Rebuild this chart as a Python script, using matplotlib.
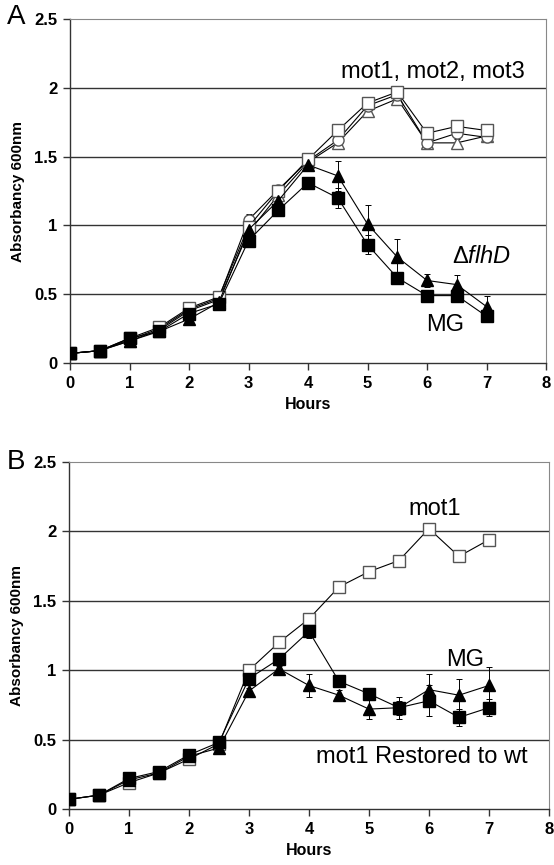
import numpy as np
import matplotlib.pyplot as plt

plt.rcParams['font.family'] = ['Liberation Sans', 'DejaVu Sans']
plt.rcParams['mathtext.fontset'] = 'custom'
plt.rcParams['mathtext.rm'] = 'Liberation Sans'
plt.rcParams['mathtext.it'] = 'Liberation Sans:italic'

#--------- data ---------
hours = [0, 0.5, 1, 1.5, 2, 2.5, 3, 3.5, 4, 4.5, 5, 5.5, 6, 6.5, 7]

# panel A
a_mg = [0.07, 0.09, 0.18, 0.23, 0.36, 0.43, 0.89, 1.11, 1.31, 1.20, 0.86, 0.62, 0.49, 0.49, 0.34]
a_mg_err = [0.01, 0.01, 0.01, 0.01, 0.02, 0.02, 0.03, 0.03, 0.03, 0.07, 0.07, 0.02, 0.02, 0.02, 0.02]
a_flhd = [0.07, 0.09, 0.16, 0.23, 0.32, 0.44, 0.97, 1.18, 1.44, 1.36, 1.01, 0.77, 0.60, 0.57, 0.41]
a_flhd_err = [0.01, 0.01, 0.01, 0.01, 0.02, 0.02, 0.03, 0.03, 0.03, 0.11, 0.14, 0.13, 0.05, 0.07, 0.08]
a_mot1 = [0.07, 0.09, 0.18, 0.26, 0.40, 0.48, 0.99, 1.25, 1.48, 1.69, 1.89, 1.97, 1.67, 1.72, 1.69]
a_mot2 = [0.07, 0.09, 0.17, 0.25, 0.39, 0.47, 1.04, 1.26, 1.47, 1.62, 1.87, 1.95, 1.60, 1.67, 1.64]
a_mot3 = [0.07, 0.09, 0.16, 0.24, 0.38, 0.46, 0.95, 1.22, 1.46, 1.60, 1.83, 1.92, 1.60, 1.60, 1.65]
a_mot_err = [0.01, 0.01, 0.01, 0.01, 0.02, 0.02, 0.04, 0.03, 0.02, 0.03, 0.03, 0.03, 0.03, 0.03, 0.02]

# panel B
b_mot1 = [0.07, 0.10, 0.19, 0.26, 0.36, 0.47, 1.00, 1.20, 1.37, 1.60, 1.71, 1.79, 2.02, 1.82, 1.94]
b_mot1_err = [0.01, 0.01, 0.01, 0.01, 0.01, 0.01, 0.02, 0.02, 0.02, 0.02, 0.02, 0.02, 0.03, 0.04, 0.03]
b_mg = [0.07, 0.10, 0.22, 0.27, 0.39, 0.48, 0.94, 1.08, 1.28, 0.92, 0.83, 0.73, 0.78, 0.66, 0.73]
b_mg_err = [0.01, 0.01, 0.01, 0.01, 0.01, 0.01, 0.03, 0.03, 0.05, 0.03, 0.03, 0.05, 0.11, 0.06, 0.06]
b_rest = [0.07, 0.10, 0.21, 0.26, 0.38, 0.44, 0.85, 1.01, 0.89, 0.82, 0.72, 0.73, 0.86, 0.82, 0.89]
b_rest_err = [0.01, 0.01, 0.01, 0.01, 0.01, 0.01, 0.02, 0.02, 0.08, 0.04, 0.07, 0.08, 0.11, 0.12, 0.13]

x_ticks = [0, 1, 2, 3, 4, 5, 6, 7, 8]
y_ticks = [0, 0.5, 1, 1.5, 2, 2.5]
y_ticklabels = ['0', '0.5', '1', '1.5', '2', '2.5']


#--------- helpers ---------
def draw_series(ax, y, err, marker, filled, ms=8):
    face = 'black' if filled else 'white'
    edge = 'black' if filled else '#555555'
    ax.errorbar(hours, y, yerr=err, fmt='none', ecolor='black', elinewidth=0.7,
                capsize=2, capthick=0.7, zorder=3)
    ax.plot(hours, y, '-', color='black', lw=0.8, marker=marker, ms=ms,
            mfc=face, mec=edge, mew=1.0, zorder=4)


def style_axes(ax):
    ax.set_xlim(0, 8)
    ax.set_ylim(0, 2.5)
    ax.set_xticks(x_ticks)
    ax.set_yticks(y_ticks)
    ax.set_yticklabels(y_ticklabels)
    for yy in y_ticks[1:-1]:
        ax.axhline(yy, color='#333333', lw=1.0, zorder=1)
    for s in ['top', 'right']:
        ax.spines[s].set_color('#888888')
        ax.spines[s].set_linewidth(0.8)
    for s in ['left', 'bottom']:
        ax.spines[s].set_color('#333333')
        ax.spines[s].set_linewidth(1.0)
    ax.tick_params(direction='out', length=5, width=1.0, color='#333333',
                   labelsize=12, pad=4)
    for lab in ax.get_xticklabels() + ax.get_yticklabels():
        lab.set_fontweight('bold')
    ax.set_xlabel('Hours', fontsize=11.5, fontweight='bold', labelpad=5)
    ax.set_ylabel('Absorbancy 600nm', fontsize=11, fontweight='bold', labelpad=7)


#--------- plotting ---------
fig = plt.figure(figsize=(5.54, 8.65), dpi=100)
ax1 = fig.add_axes([0.1264, 0.5803, 0.8592, 0.3977])
ax2 = fig.add_axes([0.1245, 0.0647, 0.8664, 0.4012])

# panel A
style_axes(ax1)
draw_series(ax1, a_mot3, a_mot_err, '^', False)
draw_series(ax1, a_mot2, a_mot_err, 'o', False)
draw_series(ax1, a_mot1, a_mot_err, 's', False, ms=9)
draw_series(ax1, a_flhd, a_flhd_err, '^', True)
draw_series(ax1, a_mg, a_mg_err, 's', True)
ax1.text(7.65, 2.07, 'mot1, mot2, mot3', ha='right', fontsize=17)
ax1.text(6.42, 0.73, r'$\Delta\mathit{flhD}$', ha='left', fontsize=17)
ax1.text(6.3, 0.23, 'MG', ha='center', fontsize=17)

# panel B
style_axes(ax2)
draw_series(ax2, b_mot1, b_mot1_err, 's', False)
draw_series(ax2, b_rest, b_rest_err, '^', True)
draw_series(ax2, b_mg, b_mg_err, 's', True)
ax2.text(6.1, 2.12, 'mot1', ha='center', fontsize=17)
ax2.text(6.6, 1.03, 'MG', ha='center', fontsize=17)
ax2.text(4.12, 0.33, 'mot1 Restored to wt', ha='left', fontsize=17)

fig.text(0.012, 0.972, 'A', fontsize=20)
fig.text(0.012, 0.458, 'B', fontsize=20)

fig.savefig('out.png', dpi=100)
